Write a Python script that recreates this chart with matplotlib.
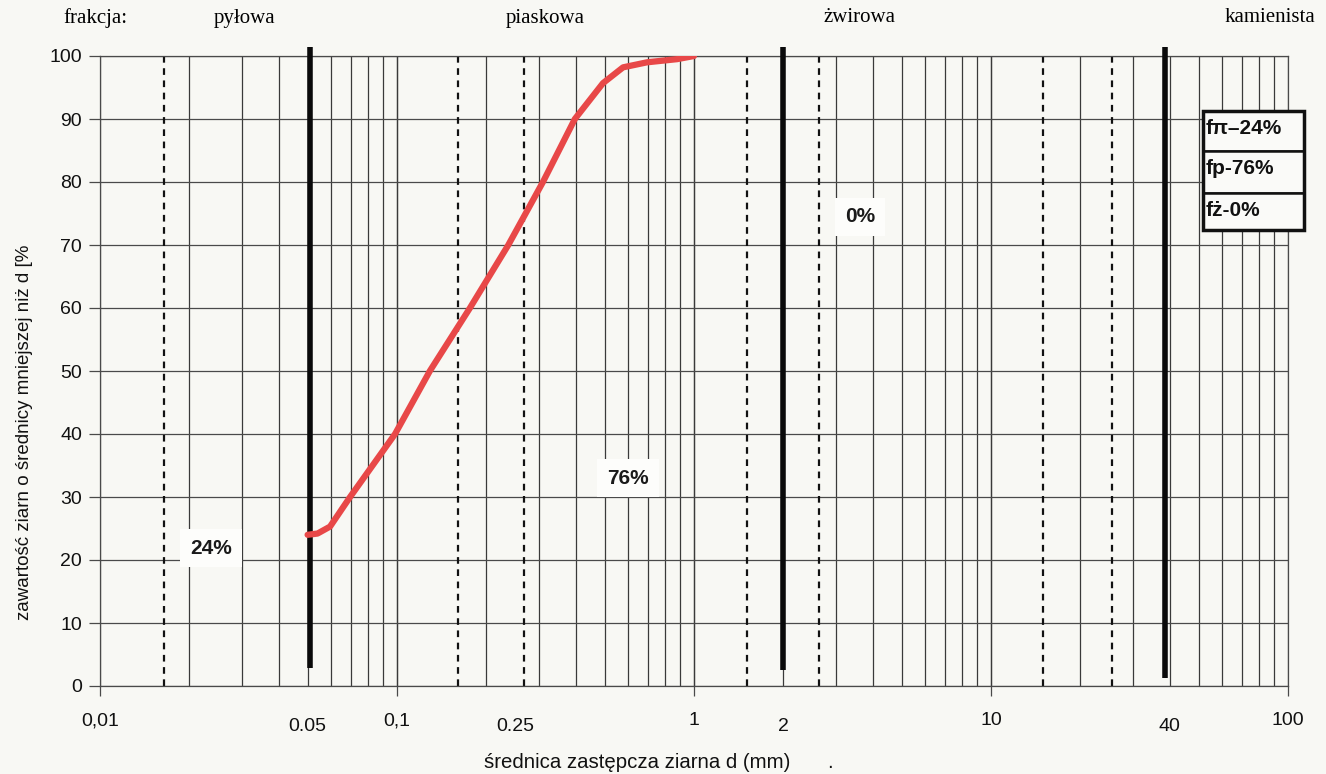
import matplotlib
matplotlib.use("Agg")
import matplotlib.pyplot as plt
from matplotlib.patches import Rectangle

# ---- data ----
diam_mm = [0.05, 0.054, 0.0595, 0.0695, 0.0985, 0.129, 0.176, 0.237, 0.310,
           0.397, 0.494, 0.577, 0.695, 0.877, 1.0]
passing_pct = [24.0, 24.2, 25.3, 30.0, 40.0, 50.0, 60.0, 70.0, 80.0,
               90.0, 95.7, 98.2, 99.0, 99.5, 100.0]

fraction_bounds = [0.051, 2.0, 38.5]           # thick lines
dashed_marks = [0.0164, 0.16, 0.268, 1.51, 2.64, 15.0, 25.5]
fraction_names = ["pyłowa", "piaskowa", "żwirowa", "kamienista"]
fraction_pct = ["24%", "76%", "0%"]
legend_rows = ["fπ–24%", "fp-76%", "fż-0%"]

xtick_major = [0.01, 0.1, 1, 10, 100]
xtick_major_labels = ["0,01", "0,1", "1", "10", "100"]
xtick_minor = [0.05, 0.25, 2, 40]
xtick_minor_labels = ["0.05", "0.25", "2", "40"]
ytick_vals = list(range(0, 101, 10))

W, H = 1326, 774
BG = "#f8f8f4"
fig = plt.figure(figsize=(W / 100, H / 100), dpi=100, facecolor=BG)
ax = fig.add_axes([100 / W, 1 - 686 / H, (1288 - 100) / W, (686 - 56) / H])
ax.set_facecolor(BG)
ax.set_xscale("log")
ax.set_xlim(0.01, 100)
ax.set_ylim(0, 100)

sans = ["Liberation Sans", "DejaVu Sans"]
serif = ["Liberation Serif", "DejaVu Serif"]

# thin vertical grid lines
for dec in [0.01, 0.1, 1, 10]:
    for m in range(1, 11):
        ax.axvline(dec * m, color="#3a3a3a", lw=0.9, zorder=1)
# horizontal grid
for v in ytick_vals:
    ax.axhline(v, color="#4a4a4a", lw=0.9, zorder=1)
# dashed lines
for v in dashed_marks:
    ax.axvline(v, color="#111111", lw=1.6, ls=(0, (3, 2.5)), zorder=2)
# thick fraction boundaries
bottoms = [2.9, 2.5, 1.3]
for v, b in zip(fraction_bounds, bottoms):
    ax.plot([v, v], [b, 101.4], color="#0a0a0a", lw=4, solid_capstyle="butt",
            clip_on=False, zorder=3)

# curve
ax.plot(diam_mm, passing_pct, color="#e84848", lw=4.5, solid_capstyle="round",
        solid_joinstyle="round", zorder=5)

for s in ax.spines.values():
    s.set_color("#4a4a4a")
    s.set_linewidth(0.9)

# ticks
ax.set_yticks(ytick_vals)
ax.set_yticklabels([str(v) for v in ytick_vals], fontsize=14, family=sans,
                   color="#111111")
ax.tick_params(axis="y", length=8, width=0.9, color="#4a4a4a", pad=5)
ax.set_xticks(xtick_major)
ax.set_xticklabels(xtick_major_labels, fontsize=14, family=sans,
                   color="#111111")
ax.set_xticks(xtick_minor, minor=True)
ax.set_xticklabels(xtick_minor_labels, minor=True, fontsize=14, family=sans,
                   color="#111111")
ax.tick_params(axis="x", which="major", length=7, width=0.9,
               color="#4a4a4a", pad=12)
ax.tick_params(axis="x", which="minor", length=0, pad=23)
ax.tick_params(axis="y", which="minor", left=False)

# axis labels
fig.text(484 / W, 1 - 762 / H, "średnica zastępcza ziarna d (mm)",
         fontsize=14.7, family=sans, ha="left", va="center", color="#111111")
fig.text(830 / W, 1 - 762 / H, ".", fontsize=14.7, family=sans,
         ha="center", va="center", color="#111111")
fig.text(25 / W, 1 - 432 / H, "zawartość ziarn o średnicy mniejszej niż d [%",
         fontsize=13.5, family=sans, rotation=90, ha="center", va="center",
         color="#111111")

# top fraction names
fig.text(95 / W, 1 - 18 / H, "frakcja:", fontsize=15, family=serif,
         ha="center", va="center")
for name, xp in zip(fraction_names, [245, 545, 860, 1270]):
    fig.text(xp / W, 1 - 18 / H, name, fontsize=15, family=serif,
             ha="center", va="center")

# percentage labels inside plot
box = dict(facecolor="#fdfdfb", edgecolor="none", pad=7)
for txt, (xp, yp) in zip(fraction_pct, [(211, 548), (628, 478), (860, 217)]):
    fig.text(xp / W, 1 - yp / H, txt, fontsize=15, fontweight="bold",
             family=sans, ha="center", va="center", color="#1a1a1a",
             bbox=box, zorder=6)

# legend box
cells = [(111, 151), (151, 193), (193, 230)]
for (top, bot), txt in zip(cells, legend_rows):
    fig.add_artist(Rectangle((1203 / W, 1 - bot / H), (1304 - 1203) / W,
                             (bot - top) / H, transform=fig.transFigure,
                             facecolor="#fafaf8", edgecolor="#111111",
                             lw=1.8, zorder=7))
    fig.text(1206 / W, 1 - (top + 17) / H, txt, fontsize=15,
             fontweight="bold", family=sans, ha="left", va="center",
             color="#111111", zorder=8)
fig.add_artist(Rectangle((1203 / W, 1 - 230 / H), (1304 - 1203) / W,
                         (230 - 111) / H, transform=fig.transFigure,
                         facecolor="none", edgecolor="#111111", lw=2.5,
                         zorder=9))

fig.savefig("out.png", dpi=100, facecolor=BG)
